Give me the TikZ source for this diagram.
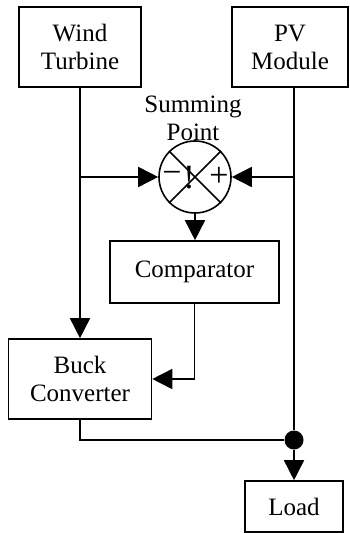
\documentclass[tikz,border=0pt]{standalone}
\usepackage{fontspec}
\setmainfont{Liberation Serif}
\usetikzlibrary{positioning}
\usetikzlibrary{arrows.meta}

\begin{document}
\begin{tikzpicture}[x=0.5pt, y=-0.5pt, thick, font=\fontsize{12.5}{14}\selectfont,
        block/.style = {draw, rectangle, align=center, inner sep=0pt},
        sum/.style = {draw, circle, minimum size=36pt, inner sep=0pt},
        sign/.style = {font=\fontsize{17}{17}\selectfont, inner sep=0pt},
        junction/.style = {fill, circle, minimum size=9.5pt, inner sep=0pt},
        >={Triangle[length=10pt,width=10pt]}]
        \useasboundingbox (0,0) rectangle (349,533);
        % Nodes
        \node[block, minimum width=61pt, minimum height=40pt] (wind) at (80,47) {Wind\\Turbine};
        \node[block, minimum width=58pt, minimum height=40pt] (pv) at (290,47) {PV\\Module};
        \node[sum] (sum) at (195,177) {};
        \node[align=center] (sumlabel) at (193,118) {Summing\\Point};
        \node[sign] (minus) at ([xshift=-11.5pt]sum.center) {−};
        \node[sign] (bang) at ([xshift=-3pt,yshift=-0.5pt]sum.center) {!};
        \node[sign] (plus) at ([xshift=12pt]sum.center) {+};
        \node[block, minimum width=84.5pt, minimum height=31pt] (comp) at (194.5,272) {Comparator};
        \node[block, minimum width=71.5pt, minimum height=40pt] (buck) at (80,379) {Buck\\Converter};
        \node[block, minimum width=49pt, minimum height=25.5pt] (load) at (294,506.5) {Load};
        \node[junction] (junc) at (294,440) {};
        % Edges
        \draw (sum.north west) -- (sum.south east);
        \draw (sum.north east) -- (sum.south west);
        \draw[->] (wind.south) -- (buck.north);
        \draw[->] (wind.south |- sum) -- (sum.west);
        \draw (load.north |- pv.south) -- (junc);
        \draw[->] (load.north |- sum) -- (sum.east);
        \draw[->] (sum.south) -- (sum.south |- comp.north);
        \draw[->] (comp.south) |- (buck.east);
        \draw (buck.south) |- (junc);
        \draw[->] (junc) -- (load.north);
    \end{tikzpicture}
\end{document}
